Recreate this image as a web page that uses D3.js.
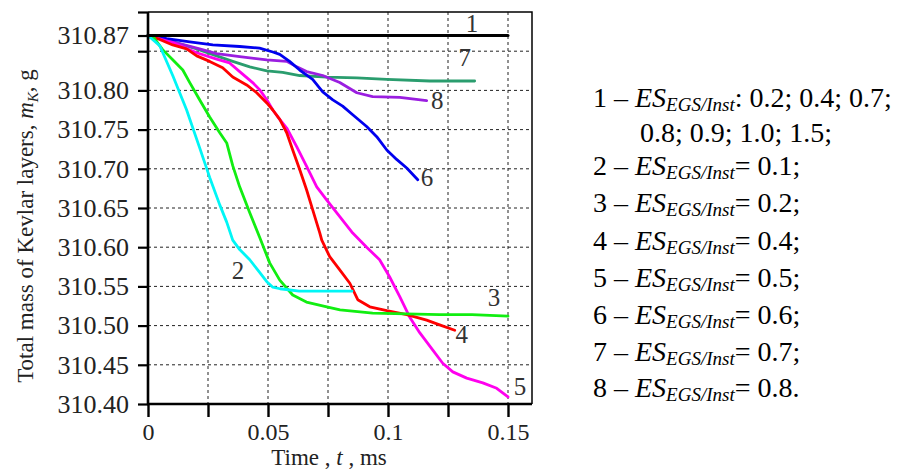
<!DOCTYPE html>
<html>
<head>
<meta charset="utf-8">
<script src="https://cdn.jsdelivr.net/npm/d3@7"></script>
<style>
  html, body { margin: 0; padding: 0; background: #fff; }
  svg { display: block; }
  svg text { font-family: "Liberation Serif", "Tinos", "Times New Roman", Times, "DejaVu Serif", "Noto Serif", serif !important; }
</style>
</head>
<body>
<svg id="chart" width="905" height="473"></svg>
<script>
// ---------- data ----------
const xTicks = [0, 0.025, 0.05, 0.075, 0.1, 0.125, 0.15];
const xTickLabels = ["0", "", "0.05", "", "0.1", "", "0.15"];
const yTicks = [310.40, 310.45, 310.50, 310.55, 310.60, 310.65, 310.70, 310.75, 310.80, 310.85, 310.87, 310.90];
const yTickLabels = ["310.40", "310.45", "310.50", "310.55", "310.60", "310.65", "310.70", "310.75", "310.80", "", "310.87", ""];
const yGrid = [310.45, 310.50, 310.55, 310.60, 310.65, 310.70, 310.75, 310.80, 310.85];

// curve 1 (black, constant)
const t1 = [0, 0.15];
const m1 = [310.87, 310.87];
// curve 2 (cyan)
const t2 = [0, 0.0049, 0.0103, 0.0161, 0.0215, 0.0257, 0.0299, 0.0328, 0.0353, 0.0382, 0.0424, 0.0457, 0.0495, 0.052, 0.055, 0.063, 0.075, 0.085];
const m2 = [310.87, 310.857, 310.819, 310.775, 310.727, 310.689, 310.654, 310.632, 310.609, 310.597, 310.584, 310.571, 310.556, 310.549, 310.547, 310.544, 310.544, 310.544];
// curve 3 (green)
const t3 = [0, 0.002, 0.0061, 0.0103, 0.0145, 0.0174, 0.0215, 0.0257, 0.0299, 0.0328, 0.0353, 0.0382, 0.0424, 0.0466, 0.0507, 0.0549, 0.0603, 0.066, 0.0745, 0.08, 0.0936, 0.1076, 0.1215, 0.135, 0.15];
const m3 = [310.87, 310.869, 310.852, 310.839, 310.826, 310.810, 310.788, 310.766, 310.746, 310.733, 310.704, 310.677, 310.644, 310.612, 310.580, 310.558, 310.539, 310.530, 310.524, 310.520, 310.516, 310.515, 310.514, 310.514, 310.512];
// curve 4 (red)
const t4 = [0, 0.0049, 0.0103, 0.0161, 0.0203, 0.0257, 0.0311, 0.0353, 0.0411, 0.0453, 0.0495, 0.052, 0.0549, 0.0578, 0.0603, 0.0632, 0.0661, 0.0686, 0.0716, 0.0724, 0.0757, 0.0799, 0.0841, 0.0874, 0.0924, 0.0995, 0.1078, 0.1161, 0.1215, 0.1278];
const m4 = [310.87, 310.865, 310.858, 310.853, 310.844, 310.837, 310.829, 310.817, 310.807, 310.797, 310.784, 310.775, 310.763, 310.746, 310.724, 310.699, 310.673, 310.648, 310.618, 310.609, 310.588, 310.571, 310.554, 310.533, 310.524, 310.519, 310.514, 310.507, 310.501, 310.494];
// curve 5 (magenta)
const t5 = [0, 0.0103, 0.0203, 0.0286, 0.034, 0.0382, 0.0436, 0.0465, 0.0495, 0.052, 0.0549, 0.0578, 0.062, 0.0661, 0.0703, 0.0745, 0.0799, 0.0853, 0.0911, 0.0965, 0.1007, 0.1049, 0.109, 0.1132, 0.1186, 0.1228, 0.127, 0.1328, 0.1395, 0.1453, 0.15];
const m5 = [310.87, 310.861, 310.848, 310.840, 310.835, 310.824, 310.810, 310.801, 310.788, 310.775, 310.763, 310.752, 310.728, 310.703, 310.677, 310.660, 310.639, 310.618, 310.600, 310.584, 310.562, 310.537, 310.511, 310.491, 310.469, 310.452, 310.441, 310.433, 310.427, 310.420, 310.409];
// curve 6 (blue)
const t6 = [0, 0.0078, 0.0174, 0.027, 0.0382, 0.0465, 0.052, 0.0549, 0.059, 0.0632, 0.0686, 0.0728, 0.077, 0.0811, 0.0853, 0.0911, 0.0953, 0.0995, 0.1036, 0.1078, 0.1124];
const m6 = [310.87, 310.866, 310.862, 310.858, 310.856, 310.854, 310.849, 310.846, 310.837, 310.826, 310.814, 310.798, 310.788, 310.780, 310.769, 310.754, 310.741, 310.724, 310.712, 310.701, 310.686];
// curve 7 (teal)
const t7 = [0, 0.0103, 0.0203, 0.0286, 0.0353, 0.0424, 0.0495, 0.0561, 0.0632, 0.0745, 0.087, 0.0995, 0.1174, 0.1361];
const m7 = [310.87, 310.862, 310.853, 310.844, 310.837, 310.830, 310.825, 310.823, 310.819, 310.817, 310.816, 310.814, 310.812, 310.812];
// curve 8 (purple)
const t8 = [0, 0.0103, 0.0215, 0.0286, 0.0382, 0.0495, 0.0578, 0.062, 0.0661, 0.0728, 0.0799, 0.087, 0.0936, 0.1049, 0.1161];
const m8 = [310.87, 310.862, 310.853, 310.847, 310.843, 310.839, 310.837, 310.830, 310.824, 310.819, 310.810, 310.797, 310.792, 310.791, 310.787];

const seriesNames = ["1", "2", "3", "4", "5", "6", "7", "8"];
const seriesColors = ["#000000", "#00f6f6", "#11ee11", "#ff0000", "#ff00ee", "#0000ee", "#2a9d6e", "#9a1ee0"];
// curve number labels: anchor point in data coordinates (t, m)
const labelT = [0.1350, 0.0375, 0.1442, 0.1307, 0.1550, 0.1162, 0.1320, 0.1205];
const labelM = [310.8745, 310.559, 310.525, 310.478, 310.412, 310.678, 310.831, 310.776];

const legendNums = ["1", "2", "3", "4", "5", "6", "7", "8"];
const legendVals = [": 0.2; 0.4; 0.7;", "= 0.1;", "= 0.2;", "= 0.4;", "= 0.5;", "= 0.6;", "= 0.7;", "= 0.8."];
const legendWrap = "0.8; 0.9; 1.0; 1.5;";

// ---------- drawing ----------
const svg = d3.select("#chart");
const x = d3.scaleLinear().domain([0, 0.16]).range([148, 532]);
const y = d3.scaleLinear().domain([310.40, 310.90]).range([404, 12]);

const series = [[t1, m1], [t2, m2], [t3, m3], [t4, m4], [t5, m5], [t6, m6], [t7, m7], [t8, m8]];

// grid
const grid = svg.append("g").attr("stroke", "#222").attr("stroke-width", 1).attr("stroke-dasharray", "3,3");
grid.selectAll("line.h").data(yGrid).enter().append("line")
  .attr("x1", x(0)).attr("x2", x(0.16)).attr("y1", d => y(d)).attr("y2", d => y(d));
grid.selectAll("line.v").data(xTicks.slice(1)).enter().append("line")
  .attr("x1", d => x(d)).attr("x2", d => x(d)).attr("y1", y(310.90)).attr("y2", y(310.40));

// frame top/right
svg.append("path")
  .attr("d", `M${x(0)},${y(310.90)}H${x(0.16)}V${y(310.40)}`)
  .attr("fill", "none").attr("stroke", "#000").attr("stroke-width", 1.5);

// lines
const line = d3.line().x(d => x(d[0])).y(d => y(d[1]));
const order = [6, 7, 5, 4, 3, 2, 1, 0];
order.forEach(i => {
  const [ts, ms] = series[i];
  svg.append("path")
    .datum(ts.map((t, k) => [t, ms[k]]))
    .attr("d", line)
    .attr("fill", "none")
    .attr("stroke", seriesColors[i])
    .attr("stroke-width", i === 0 ? 3 : 2.8)
    .attr("stroke-linejoin", "round")
    .attr("stroke-linecap", "round");
});

// axes
const xAxis = d3.axisBottom(x).tickValues(xTicks).tickSize(13).tickPadding(6)
  .tickFormat((d, i) => xTickLabels[i]);
const gx = svg.append("g").attr("transform", `translate(0,${y(310.40)})`).call(xAxis);
gx.attr("font-family", null);
gx.select(".domain").attr("d", `M${x(0) - 1},0H${x(0.16)}`).attr("stroke-width", 2.6);
gx.selectAll(".tick line").attr("stroke-width", 2.4);
gx.selectAll(".tick text").attr("font-size", 24).attr("fill", "#222");

const yAxis = d3.axisLeft(y).tickValues(yTicks).tickSize(10).tickPadding(9)
  .tickFormat((d, i) => yTickLabels[i]);
const gy = svg.append("g").attr("transform", `translate(${x(0)},0)`).call(yAxis);
gy.attr("font-family", null);
gy.select(".domain").attr("d", `M0,${y(310.90)}V${y(310.40) + 1}`).attr("stroke-width", 2.6);
gy.selectAll(".tick line").attr("stroke-width", 2.2);
gy.selectAll(".tick text").attr("font-size", 26).attr("fill", "#222");

// axis titles
const yt = svg.append("text")
  .attr("transform", `translate(33,${226}) rotate(-90)`)
  .attr("text-anchor", "middle").attr("font-size", 23).attr("fill", "#222");
yt.append("tspan").text("Total mass of Kevlar layers, ");
yt.append("tspan").attr("font-style", "italic").text("m");
yt.append("tspan").attr("font-style", "italic").attr("font-size", 15).attr("dy", 5).text("K");
yt.append("tspan").attr("dy", -5).text(", g");

const xt = svg.append("text")
  .attr("x", 329).attr("y", 465)
  .attr("text-anchor", "middle").attr("font-size", 23).attr("fill", "#222");
xt.append("tspan").text("Time , ");
xt.append("tspan").attr("font-style", "italic").text("t");
xt.append("tspan").text(" , ms");

// curve labels
svg.append("g").selectAll("text").data(seriesNames).enter().append("text")
  .attr("x", (d, i) => x(labelT[i]))
  .attr("y", (d, i) => y(labelM[i]))
  .attr("text-anchor", "middle")
  .attr("font-size", 25).attr("fill", "#333")
  .text(d => d);

// legend
const legX = 593;
const legBase = [107, 175, 212, 250, 287, 324, 361, 397];
const leg = svg.append("g").attr("fill", "#000");
legendNums.forEach((n, i) => {
  const tx = leg.append("text").attr("x", legX).attr("y", legBase[i]).attr("font-size", 28);
  tx.append("tspan").text(n + " \u2013 ");
  tx.append("tspan").attr("font-style", "italic").text("ES");
  tx.append("tspan").attr("font-style", "italic").attr("font-size", 19).attr("dy", 4).text("EGS/Inst");
  tx.append("tspan").attr("dy", -4).text(legendVals[i]);
});
leg.append("text").attr("x", 640).attr("y", 142).attr("font-size", 28).text(legendWrap);
</script>
</body>
</html>
